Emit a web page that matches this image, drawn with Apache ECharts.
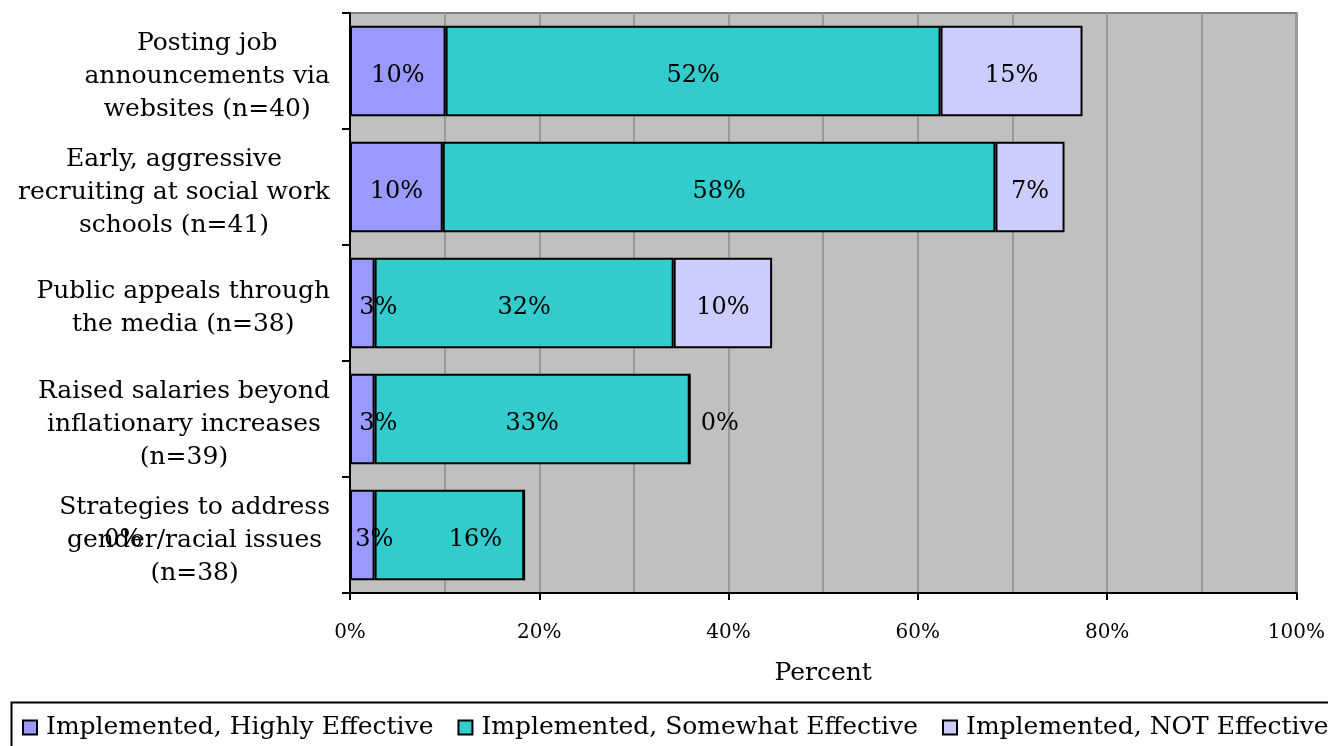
<!DOCTYPE html>
<html>
<head>
<meta charset="utf-8">
<title>Recruitment strategies</title>
<script src="https://cdn.jsdelivr.net/npm/echarts@6/dist/echarts.min.js"></script>
<style>
  html, body { margin: 0; padding: 0; background: #ffffff; }
  #chart { width: 1328px; height: 746px; }
</style>
</head>
<body>
<div id="chart"></div>
<script>
// Recruitment strategies and how effective they were (percent of agencies)
const categories = [
  'Posting job\nannouncements via\nwebsites (n=40)',
  'Early, aggressive\nrecruiting at social work\nschools (n=41)',
  'Public appeals through\nthe media (n=38)',
  'Raised salaries beyond\ninflationary increases\n(n=39)',
  'Strategies to address\ngender/racial issues\n(n=38)'
];
const seriesNames = [
  'Implemented, Highly Effective',
  'Implemented, Somewhat Effective',
  'Implemented, NOT Effective'
];
const highlyEffective   = [10.1, 9.8, 2.6, 2.6, 2.6];
const somewhatEffective = [52.3, 58.4, 31.6, 33.3, 15.8];
const notEffective      = [15.0, 7.3, 10.4, 0, 0];
const xTicks = [0, 20, 40, 60, 80, 100];

const colors = ['#9999FF', '#33CCCC', '#CCCCFF'];
const serif = 'DejaVu Serif';

// label nudges for individual bars: [series index, row index] -> label override
const labelTweaks = {
  '0,2': { offset: [16, 5] },
  '0,3': { offset: [16, 5] },
  '0,4': { offset: [12, 5] },
  '1,4': { offset: [26, 5] },
  '2,3': { position: 'right', distance: 10, offset: [0, 5] },
  '2,4': { position: 'right', distance: 10, offset: [-431, 5] }
};

const allValues = [highlyEffective, somewhatEffective, notEffective];

const series = allValues.map((vals, si) => ({
  name: seriesNames[si],
  type: 'bar',
  stack: 'total',
  barCategoryGap: '22%',
  itemStyle: { color: colors[si], borderColor: '#000000', borderWidth: 2 },
  label: {
    show: true,
    position: 'inside',
    offset: [0, 5],
    color: '#000000',
    fontFamily: serif,
    fontSize: 24,
    formatter: p => Math.round(p.value) + '%'
  },
  emphasis: { disabled: true },
  data: vals.map((v, ri) => {
    const t = labelTweaks[si + ',' + ri];
    return t ? { value: v, label: t } : v;
  })
}));

const chart = echarts.init(document.getElementById('chart'), null, { renderer: 'canvas' });

chart.setOption({
  animation: false,
  backgroundColor: '#ffffff',
  grid: {
    left: 350, right: 30, top: 13, bottom: 153,
    show: true,
    backgroundColor: '#C0C0C0',
    borderColor: '#808080',
    borderWidth: 2
  },
  xAxis: {
    type: 'value',
    min: xTicks[0],
    max: xTicks[xTicks.length - 1],
    interval: xTicks[1] - xTicks[0],
    name: 'Percent',
    nameLocation: 'middle',
    nameGap: 68,
    nameTextStyle: { fontFamily: serif, fontSize: 25, color: '#000000' },
    axisLine: { show: true, lineStyle: { color: '#000000', width: 2 } },
    axisTick: { show: true, length: 7, lineStyle: { color: '#000000', width: 2 } },
    axisLabel: {
      margin: 30,
      fontFamily: serif,
      fontSize: 20,
      color: '#000000',
      formatter: v => v + '%'
    },
    splitLine: { show: true, lineStyle: { color: '#999999', width: 2 } },
    minorTick: { show: false, splitNumber: 2 },
    minorSplitLine: { show: true, lineStyle: { color: '#999999', width: 2 } }
  },
  yAxis: {
    type: 'category',
    inverse: true,
    data: categories,
    axisLine: { show: true, lineStyle: { color: '#000000', width: 2 } },
    axisTick: { show: true, length: 8, lineStyle: { color: '#000000', width: 2 } },
    axisLabel: {
      margin: 20,
      padding: [10, 0, 0, 0],
      color: '#000000',
      fontFamily: serif,
      fontSize: 25,
      lineHeight: 33,
      align: 'right',
      formatter: v => v.split('\n').map(s => '{c|' + s + '}').join('\n'),
      rich: {
        c: { align: 'center', fontFamily: serif, fontSize: 25, lineHeight: 33, color: '#000000' }
      }
    },
    splitLine: { show: false }
  },
  legend: {
    left: 17,
    top: 710,
    width: 1500,
    itemWidth: 14,
    itemHeight: 14,
    itemGap: 24,
    icon: 'rect',
    textStyle: {
      fontFamily: serif,
      fontSize: 25,
      color: '#000000',
      padding: [0, 0, 0, 4]
    },
    data: seriesNames
  },
  graphic: [{
    type: 'rect',
    left: 9,
    top: 700,
    shape: { width: 1340, height: 60 },
    style: { fill: 'none', stroke: '#000000', lineWidth: 2 },
    silent: true
  }],
  series: series
});
</script>
</body>
</html>
